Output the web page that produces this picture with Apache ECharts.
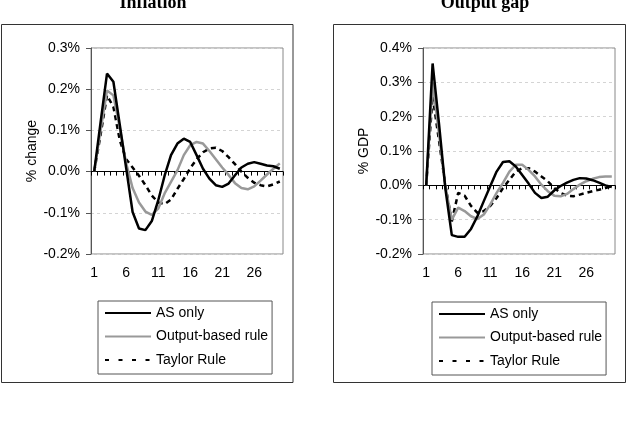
<!DOCTYPE html>
<html><head><meta charset="utf-8">
<script src="https://cdn.jsdelivr.net/npm/echarts@6/dist/echarts.min.js"></script>
<style>html,body{margin:0;padding:0;background:#fff}#c{width:627px;height:438px}</style>
</head><body><div id="c"></div>
<script>
const periods = ['1','2','3','4','5','6','7','8','9','10','11','12','13','14','15','16','17','18','19','20','21','22','23','24','25','26','27','28','29','30'];
const seriesNames = ['AS only', 'Output-based rule', 'Taylor Rule'];
const chartTitles = ['Inflation', 'Output gap'];
const axisNames = ['% change', '% GDP'];

// Inflation (% change)
const inflationAS = [0, 0.12, 0.238, 0.218, 0.113, 0.008, -0.098, -0.138, -0.142, -0.12, -0.07, -0.01, 0.04, 0.068, 0.08, 0.072, 0.04, 0.007, -0.017, -0.033, -0.037, -0.029, -0.009, 0.01, 0.019, 0.023, 0.019, 0.015, 0.013, 0.007];
const inflationOutput = [0, 0.1, 0.197, 0.185, 0.105, 0.02, -0.04, -0.075, -0.097, -0.105, -0.09, -0.053, -0.025, 0.003, 0.04, 0.064, 0.072, 0.068, 0.05, 0.03, 0.01, -0.008, -0.028, -0.04, -0.043, -0.036, -0.022, -0.007, 0.007, 0.02];
const inflationTaylor = [0, 0.09, 0.185, 0.157, 0.076, 0.03, 0.01, -0.01, -0.033, -0.058, -0.075, -0.079, -0.068, -0.042, -0.018, 0.008, 0.03, 0.047, 0.056, 0.058, 0.05, 0.035, 0.018, 0.0, -0.015, -0.027, -0.033, -0.036, -0.031, -0.024];

// Output gap (% GDP)
const gapAS = [0, 0.355, 0.18, -0.01, -0.145, -0.15, -0.15, -0.127, -0.09, -0.046, -0.003, 0.04, 0.068, 0.07, 0.055, 0.03, 0.005, -0.022, -0.037, -0.033, -0.015, -0.002, 0.008, 0.016, 0.021, 0.02, 0.015, 0.008, 0.0, -0.005];
const gapOutput = [0, 0.3, 0.15, -0.005, -0.1, -0.065, -0.075, -0.09, -0.098, -0.085, -0.056, -0.022, 0.007, 0.04, 0.06, 0.06, 0.045, 0.026, 0.002, -0.017, -0.03, -0.032, -0.025, -0.011, 0.002, 0.012, 0.019, 0.024, 0.026, 0.026];
const gapTaylor = [0, 0.26, 0.13, 0.0, -0.105, -0.022, -0.03, -0.06, -0.08, -0.075, -0.06, -0.037, -0.008, 0.016, 0.04, 0.05, 0.05, 0.04, 0.026, 0.012, -0.008, -0.022, -0.03, -0.032, -0.027, -0.022, -0.017, -0.013, -0.008, -0.003];

const FONT = '"Liberation Sans", Arial, sans-serif';
const chart = echarts.init(document.getElementById('c'));

const grids = [
  {left: 91, top: 48, width: 192, height: 206},
  {left: 423, top: 48, width: 192, height: 206}
];
const yRanges = [[-0.2, 0.3], [-0.2, 0.4]];
const seriesData = [[inflationAS, inflationOutput, inflationTaylor], [gapAS, gapOutput, gapTaylor]];
const lineStyles = [
  {color: '#000', width: 2.5, type: 'solid'},
  {color: '#999', width: 2.5, type: 'solid'},
  {color: '#000', width: 2.5, type: [5, 4]}
];

const xAxes = [], yAxes = [], series = [];
grids.forEach((g, gi) => {
  xAxes.push({
    gridIndex: gi, type: 'category', data: periods, boundaryGap: true, position: 'bottom',
    axisLine: {show: false, onZero: false}, axisTick: {show: false},
    axisLabel: {interval: 4, color: '#000', fontSize: 14, fontFamily: FONT, margin: 12},
    splitLine: {show: false}
  });
  xAxes.push({
    gridIndex: gi, type: 'category', data: periods, boundaryGap: true, position: 'top',
    axisLine: {show: true, onZero: true, lineStyle: {color: '#000', width: 1}},
    axisTick: {show: true, inside: true, length: 4, interval: 0, lineStyle: {color: '#000'}},
    axisLabel: {show: false}, splitLine: {show: false}
  });
  yAxes.push({
    gridIndex: gi, type: 'value', min: yRanges[gi][0], max: yRanges[gi][1], interval: 0.1,
    name: axisNames[gi], nameLocation: 'middle', nameGap: 52,
    nameTextStyle: {color: '#000', fontSize: 14, fontFamily: FONT},
    axisLine: {show: true, lineStyle: {color: '#555'}},
    axisTick: {show: true, length: 5, lineStyle: {color: '#555'}},
    axisLabel: {color: '#000', fontSize: 14, fontFamily: FONT, margin: 11,
      formatter: v => v.toFixed(1) + '%'},
    splitLine: {show: true, lineStyle: {color: '#d4d4d4', type: [3, 3]}}
  });
  seriesNames.forEach((n, si) => {
    series.push({
      name: n, type: 'line', xAxisIndex: gi * 2, yAxisIndex: gi,
      data: seriesData[gi][si], symbol: 'none', smooth: false,
      lineStyle: lineStyles[si], itemStyle: {color: lineStyles[si].color},
      animation: false, z: 3 - si
    });
  });
});

const legendData = [
  {name: seriesNames[0]},
  {name: seriesNames[1]},
  {name: seriesNames[2], lineStyle: {type: [4, 9.5]}}
];
const legendCommon = {
  orient: 'vertical', data: legendData, itemWidth: 46, itemHeight: 14, itemGap: 9.5,
  padding: [5, 4, 7, 6], borderColor: '#555', borderWidth: 1, borderRadius: 0,
  itemStyle: {opacity: 0},
  textStyle: {color: '#000', fontSize: 14, fontFamily: FONT},
  selectedMode: false
};

chart.setOption({
  animation: false,
  backgroundColor: '#fff',
  grid: grids.map(g => Object.assign({show: true, borderColor: '#888', borderWidth: 1, backgroundColor: 'transparent'}, g)),
  xAxis: xAxes,
  yAxis: yAxes,
  legend: [
    Object.assign({left: 98, top: 301}, legendCommon),
    Object.assign({left: 432, top: 302}, legendCommon)
  ],
  graphic: [
    {type: 'rect', shape: {x: 1.5, y: 24.5, width: 291.5, height: 358}, style: {fill: 'none', stroke: '#333', lineWidth: 1}, silent: true},
    {type: 'rect', shape: {x: 333.5, y: 24.5, width: 292, height: 358}, style: {fill: 'none', stroke: '#333', lineWidth: 1}, silent: true},
    {type: 'text', x: 153, y: 3, style: {text: chartTitles[0], font: 'bold 18px "Liberation Serif", "Times New Roman", serif', fill: '#000', textAlign: 'center', textVerticalAlign: 'middle'}},
    {type: 'text', x: 485, y: 3, style: {text: chartTitles[1], font: 'bold 18px "Liberation Serif", "Times New Roman", serif', fill: '#000', textAlign: 'center', textVerticalAlign: 'middle'}}
  ],
  series: series
});
</script>
</body></html>
